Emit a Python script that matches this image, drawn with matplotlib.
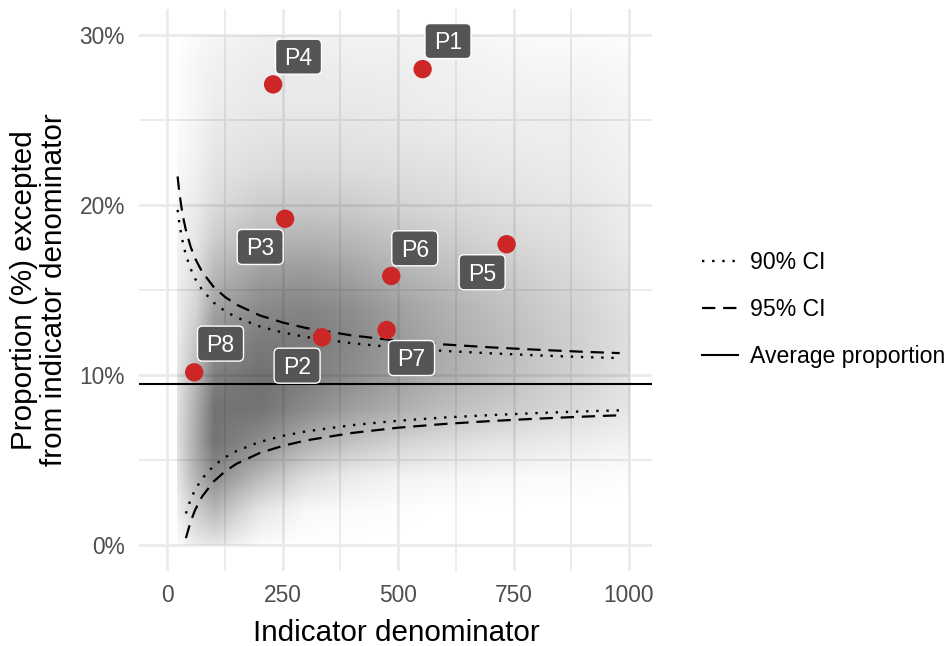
import numpy as np
import matplotlib
matplotlib.use("Agg")
import matplotlib.pyplot as plt
from matplotlib.ticker import PercentFormatter, FixedLocator
from matplotlib.patches import FancyBboxPatch
from matplotlib.transforms import ScaledTranslation

plt.rcParams['font.family'] = ['Liberation Sans', 'DejaVu Sans']

# ---------------- data ----------------
avg_proportion = 0.0945

ci_n_upper = [22, 25, 30, 35, 40, 50, 60, 75, 100, 125, 150, 200, 250, 300,
              400, 500, 600, 700, 800, 900, 980]
ci95_upper = [0.2168, 0.2092, 0.1992, 0.1914, 0.1852, 0.1756, 0.1685, 0.1607,
              0.1518, 0.1458, 0.1413, 0.1350, 0.1308, 0.1276, 0.1232, 0.1201,
              0.1179, 0.1162, 0.1148, 0.1136, 0.1128]
ci90_upper = [0.1971, 0.1907, 0.1824, 0.1758, 0.1706, 0.1626, 0.1566, 0.1501,
              0.1426, 0.1375, 0.1338, 0.1285, 0.1249, 0.1223, 0.1186, 0.1160,
              0.1141, 0.1127, 0.1115, 0.1105, 0.1099]

ci_n_lower = [40, 50, 60, 75, 100, 125, 150, 200, 250, 300, 400, 500, 600,
              700, 800, 900, 980]
ci95_lower = [0.0039, 0.0134, 0.0205, 0.0283, 0.0372, 0.0432, 0.0477, 0.0540,
              0.0582, 0.0614, 0.0658, 0.0689, 0.0711, 0.0728, 0.0742, 0.0754,
              0.0762]
ci90_lower = [0.0184, 0.0265, 0.0324, 0.0389, 0.0464, 0.0515, 0.0552, 0.0605,
              0.0641, 0.0667, 0.0704, 0.0730, 0.0749, 0.0763, 0.0775, 0.0785,
              0.0791]

point_labels = ['P1', 'P2', 'P3', 'P4', 'P5', 'P6', 'P7', 'P8']
point_n = [553, 335, 255, 229, 735, 485, 475, 58]
point_prop = [0.2800, 0.1221, 0.1919, 0.2710, 0.1769, 0.1582, 0.1264, 0.1015]
label_n = [608, 281, 201, 284, 682, 536, 529, 115]
label_prop = [0.2965, 0.1054, 0.1753, 0.2873, 0.1604, 0.1745, 0.1099, 0.1184]

# approximate darkness of the background cloud of practices, sampled at
# denominators cloud_n and proportions cloud_p (rows top to bottom)
cloud_n = [20, 60, 100, 200, 300, 400, 500, 600, 700, 800, 900, 1000]
cloud_p = [0.30, 0.28, 0.26, 0.24, 0.22, 0.20, 0.18, 0.16, 0.14, 0.12,
           0.10, 0.08, 0.06, 0.04, 0.02, 0.00]
cloud_darkness = [
    [0.00, 0.02, 0.04, 0.06, 0.06, 0.05, 0.05, 0.04, 0.03, 0.02, 0.02, 0.01],
    [0.01, 0.04, 0.06, 0.08, 0.08, 0.07, 0.07, 0.06, 0.05, 0.04, 0.04, 0.03],
    [0.01, 0.04, 0.07, 0.09, 0.09, 0.09, 0.08, 0.07, 0.06, 0.06, 0.06, 0.04],
    [0.02, 0.05, 0.09, 0.11, 0.11, 0.11, 0.10, 0.09, 0.08, 0.07, 0.07, 0.05],
    [0.03, 0.06, 0.11, 0.14, 0.15, 0.14, 0.13, 0.12, 0.10, 0.09, 0.08, 0.06],
    [0.04, 0.08, 0.14, 0.20, 0.21, 0.20, 0.17, 0.15, 0.13, 0.11, 0.10, 0.07],
    [0.05, 0.10, 0.20, 0.28, 0.30, 0.28, 0.24, 0.20, 0.17, 0.14, 0.12, 0.08],
    [0.06, 0.13, 0.28, 0.38, 0.40, 0.36, 0.30, 0.26, 0.22, 0.18, 0.14, 0.10],
    [0.07, 0.17, 0.36, 0.46, 0.48, 0.44, 0.37, 0.31, 0.26, 0.21, 0.17, 0.12],
    [0.08, 0.22, 0.44, 0.52, 0.52, 0.47, 0.40, 0.33, 0.28, 0.23, 0.18, 0.13],
    [0.10, 0.28, 0.50, 0.56, 0.52, 0.45, 0.38, 0.32, 0.27, 0.22, 0.17, 0.12],
    [0.12, 0.32, 0.55, 0.55, 0.46, 0.38, 0.32, 0.26, 0.22, 0.18, 0.14, 0.10],
    [0.12, 0.34, 0.55, 0.45, 0.32, 0.24, 0.18, 0.14, 0.11, 0.09, 0.07, 0.05],
    [0.10, 0.30, 0.45, 0.28, 0.14, 0.08, 0.05, 0.04, 0.03, 0.02, 0.02, 0.01],
    [0.06, 0.20, 0.28, 0.10, 0.03, 0.02, 0.01, 0.00, 0.00, 0.00, 0.00, 0.00],
    [0.02, 0.08, 0.10, 0.02, 0.00, 0.00, 0.00, 0.00, 0.00, 0.00, 0.00, 0.00],
]

x_ticks = [0, 250, 500, 750, 1000]
x_minor = [125, 375, 625, 875]
y_ticks = [0.0, 0.10, 0.20, 0.30]
y_minor = [0.05, 0.15, 0.25]

# ---------------- figure ----------------
W, H = 952, 646
fig = plt.figure(figsize=(W / 100, H / 100), dpi=100)
px_l, px_r, px_t, px_b = 139.3, 652.4, 9.3, 571.4
ax = fig.add_axes([px_l / W, 1 - px_b / H, (px_r - px_l) / W, (px_b - px_t) / H])
ax.set_xlim(-61, 1051)
ax.set_ylim(-0.0157, 0.3152)

for s in ax.spines.values():
    s.set_visible(False)
ax.xaxis.set_major_locator(FixedLocator(x_ticks))
ax.xaxis.set_minor_locator(FixedLocator(x_minor))
ax.yaxis.set_major_locator(FixedLocator(y_ticks))
ax.yaxis.set_minor_locator(FixedLocator(y_minor))
ax.yaxis.set_major_formatter(PercentFormatter(xmax=1.0, decimals=0))
ax.set_xticklabels([str(v) for v in x_ticks])
ax.tick_params(which='both', length=0)
ax.tick_params(axis='y', which='major', labelsize=16.4, labelcolor='#4d4d4d', pad=10.3)
ax.tick_params(axis='x', which='major', labelsize=16.4, labelcolor='#4d4d4d', pad=9)
ax.grid(which='major', color='#ebebeb', lw=2.0)
ax.grid(which='minor', color='#ebebeb', lw=1.3)
ax.set_axisbelow(True)

# background cloud of practices (translucent black), rendered smoothly
dens = np.array(cloud_darkness)[::-1]          # bottom -> top
p_asc = np.array(cloud_p[::-1])
fine_n = np.linspace(cloud_n[0], cloud_n[-1], 600)
fine_p = np.linspace(p_asc[0], p_asc[-1], 450)
along_n = np.array([np.interp(fine_n, cloud_n, row) for row in dens])
smooth = np.array([np.interp(fine_p, p_asc, along_n[:, j])
                   for j in range(along_n.shape[1])]).T
rgba = np.zeros(smooth.shape + (4,))
rgba[..., 3] = np.clip(smooth, 0, 1)
ax.imshow(rgba, extent=(cloud_n[0], cloud_n[-1], p_asc[0], p_asc[-1]),
          origin='lower', aspect='auto', interpolation='bilinear', zorder=1)

# CI curves
dot_style = (0, (1, 3.3))
dash_style = (0, (6, 3.5))
h90, = ax.plot(ci_n_upper, ci90_upper, color='black', lw=1.7, ls=dot_style, zorder=3, label='90% CI')
ax.plot(ci_n_lower, ci90_lower, color='black', lw=1.7, ls=dot_style, zorder=3)
h95, = ax.plot(ci_n_upper, ci95_upper, color='black', lw=1.6, ls=dash_style, zorder=3, label='95% CI')
ax.plot(ci_n_lower, ci95_lower, color='black', lw=1.6, ls=dash_style, zorder=3)
havg = ax.axhline(avg_proportion, color='black', lw=1.5, zorder=3, label='Average proportion')

# highlighted practices
ax.scatter(point_n, point_prop, s=175, color='#cd2626', edgecolors='none', zorder=4)

box_w, box_h = 0.46, 0.35
for lab, xn, yp in zip(point_labels, label_n, label_prop):
    trans = fig.dpi_scale_trans + ScaledTranslation(xn, yp, ax.transData)
    box = FancyBboxPatch((-box_w / 2, -box_h / 2), box_w, box_h,
                         boxstyle='round,pad=0,rounding_size=0.05',
                         transform=trans, facecolor='#555555', edgecolor='white',
                         lw=1.0, zorder=5)
    ax.add_patch(box)
    ax.text(0, -0.083, lab, transform=trans, ha='center', va='baseline',
            fontsize=16.6, color='white', zorder=6)

# axis titles
fig.text(395.9 / W, 1 - 641 / H, 'Indicator denominator', ha='center',
         va='baseline', fontsize=21.3, color='black')
fig.text(39 / W, 1 - 290 / H, 'Proportion (%) excepted\nfrom indicator denominator',
         rotation=90, ha='center', va='center', fontsize=21.3, linespacing=1.1,
         multialignment='center', color='black')

# legend
fig.legend(handles=[h90, h95, havg], loc='center left',
           bbox_to_anchor=(701.7 / W, 1 - 309.5 / H), frameon=False,
           fontsize=16.6, handlelength=1.58, handletextpad=0.52,
           labelspacing=1.05, borderpad=0, borderaxespad=0)

fig.savefig('out.png', dpi=100)
